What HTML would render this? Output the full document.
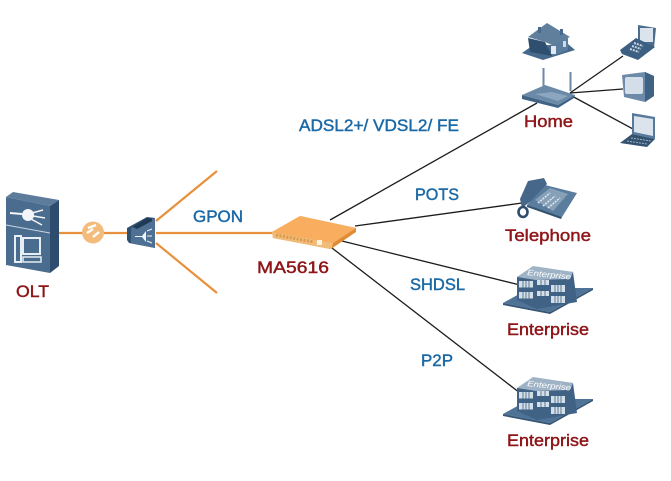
<!DOCTYPE html>
<html>
<head>
<meta charset="utf-8">
<style>
html,body{margin:0;padding:0;background:#fff;width:671px;height:481px;overflow:hidden}
svg{display:block}
text{font-family:"Liberation Sans",sans-serif;font-size:17px;stroke-width:.45px}
.b{fill:#1b69a6;stroke:#1b69a6}
.r{fill:#8e1518;stroke:#8e1518}
</style>
</head>
<body>
<svg width="671" height="481" viewBox="0 0 671 481" xmlns="http://www.w3.org/2000/svg">
<defs>
<g id="ent">
  <polygon points="503,303 530,288 593,288 550,312" fill="#4f7396"/>
  <polygon points="503,303 550,312 593,288 593,290 550,314 503,305" fill="#365676"/>
  <polygon points="517,277 533,267 573,272 577,302 537,309 517,300" fill="#3f6285"/>
  <polygon points="517,277 533,266 573,272 570,279 536,280" fill="#9fb3c6"/>
  <g fill="#d5dfe8">
    <rect x="519" y="281" width="14" height="6.5"/>
    <rect x="519" y="292" width="14" height="6.5"/>
    <rect x="537" y="280" width="12" height="5"/>
    <rect x="537" y="291" width="12" height="5"/>
    <rect x="551" y="285" width="14" height="7"/>
    <rect x="551" y="296" width="14" height="7"/>
  </g>
  <g stroke="#3f6285" stroke-width=".8">
    <path d="M523 281v17.500M526 281v17.500M529 281v17.500M555 285v18M558 285v18M561 285v18M541 280v16M545 280v16"/>
  </g>
  <text x="527" y="275" transform="rotate(6 527 275)" style="font-size:8px;font-style:italic;stroke:none" fill="#fff" textLength="44" lengthAdjust="spacingAndGlyphs">Enterprise</text>
</g>
</defs>

<!-- orange fibre -->
<g stroke="#e8903c" stroke-width="2.2" fill="none">
  <line x1="59" y1="233" x2="128" y2="233"/>
  <line x1="156" y1="233" x2="274" y2="233"/>
  <line x1="156" y1="221" x2="217" y2="171"/>
  <line x1="156" y1="243" x2="217" y2="293"/>
</g>

<!-- black links -->
<g stroke="#1c1c1c" stroke-width="1.3" fill="none">
  <line x1="330" y1="220" x2="537" y2="103"/>
  <line x1="355" y1="226" x2="522" y2="203"/>
  <line x1="342" y1="241" x2="520" y2="285"/>
  <line x1="332" y1="248" x2="520" y2="393"/>
  <line x1="570" y1="93" x2="623" y2="56"/>
  <line x1="570" y1="93" x2="623" y2="89"/>
  <line x1="570" y1="95" x2="633" y2="129"/>
</g>

<!-- OLT -->
<polygon points="6,197 13,192 59,200 50,206" fill="#5d7c9b"/>
<polygon points="50,206 59,200 59,266 50,273" fill="#2e4d6e"/>
<polygon points="6,197 50,206 50,273 6,265" fill="#4a6c8f"/>
<line x1="6" y1="225" x2="50" y2="233" stroke="#c7d4e0" stroke-width="1"/>
<circle cx="28" cy="215" r="6" fill="#f3f6f8"/>
<line x1="10" y1="213" x2="22" y2="214" stroke="#f3f6f8" stroke-width="2"/>
<path d="M32 213L43 210M33 216L45 218M31 219L42 225" stroke="#f3f6f8" stroke-width="1.5" fill="none"/>
<rect x="15" y="236" width="6" height="26" fill="none" stroke="#e6edf3" stroke-width="2"/>
<rect x="23" y="238" width="17" height="16" fill="none" stroke="#e6edf3" stroke-width="2"/>
<rect x="23" y="257" width="18" height="5" fill="none" stroke="#e6edf3" stroke-width="1.5"/>

<!-- orange connector -->
<circle cx="93" cy="232.5" r="11" fill="#f4bc7c"/>
<path d="M87 233l6-4M93 237l6-5M88 228l8-3" stroke="#fff" stroke-width="2.4" fill="none"/>

<!-- splitter -->
<polygon points="127,228 147,217 155,218 155,248 129,243 127,240" fill="#2f5070"/>
<polygon points="131,228 155,218 155,248 131,243" fill="#4d7093"/>
<polygon points="133,227 147,218 152,219 152,221 137,229" fill="#1f3a57"/>
<path d="M135 236h7l4-5v11l-4-5h-7z" fill="#f1f4f7"/>
<path d="M147 231l5-2M147 236h5M147 241l5 2" stroke="#f1f4f7" stroke-width="1"/>

<!-- MA5616 -->
<polygon points="272,232 300,216 356,228 333,243 330,249 273,238" fill="#f0a24e"/>
<polygon points="272,232 300,216 356,228 333,243" fill="#f8ae5e"/>
<polygon points="333,243 356,228 356,232 331,249" fill="#e08c35"/>
<polygon points="272,232 333,243 331,249 273,238" fill="#f1bb78"/>
<path d="M276 235l38 7" stroke="#d99a4e" stroke-width="3" stroke-dasharray="2 1.500"/>
<rect x="317" y="240" width="5" height="5" fill="#fbf3e3"/>

<!-- house -->
<polygon points="522,53 532,46 568,44 575,50 543,60" fill="#47698c"/>
<polygon points="528,38 545,42 552,56 530,52" fill="#2f4f70"/>
<polygon points="552,43 568,38 568,50 552,56" fill="#5b7d9d"/>
<polygon points="547,23 570,37 552,45 545,42 528,37" fill="#607f9c"/>
<rect x="538" y="27" width="3" height="6" fill="#47698c"/>
<rect x="560" y="29" width="3" height="6" fill="#47698c"/>
<rect x="551" y="46" width="5" height="8" fill="#e2e9f0"/>
<rect x="563" y="41" width="3" height="6" fill="#cfdbe6"/>

<!-- router -->
<rect x="542.5" y="68" width="2" height="18" fill="#6c8aa6"/>
<rect x="569.5" y="72" width="2" height="19" fill="#6c8aa6"/>
<polygon points="522,95 545,85 575,95 558,105" fill="#6b8aa8"/>
<polygon points="535,94 552,92 568,96 558,101" fill="#8ba6be"/>
<polygon points="522,95 558,105 575,95 574,98 558,108 522,99" fill="#3f6285"/>

<!-- fax phone -->
<polygon points="638,25 656,28 654,48 638,44" fill="#4c6d8e"/>
<rect x="640" y="28" width="13" height="14" fill="#dbe4ec"/>
<polygon points="620,50 636,38 655,47 638,60 622,54" fill="#3c5f82"/>
<path d="M630 49l9 3M632 46l9 3M634 43l9 3" stroke="#c8d5e1" stroke-width="2" stroke-dasharray="2 1"/>

<!-- monitor -->
<polygon points="622,75 645,72 654,76 654,96 645,102 624,97" fill="#6d8ba8"/>
<polygon points="645,72 654,76 654,96 645,102" fill="#3f6285"/>
<rect x="625" y="77" width="18" height="17" rx="2" fill="#d3dee8"/>

<!-- laptop -->
<polygon points="632,113 655,117 655,139 632,134" fill="#577a9c"/>
<polygon points="634,116 653,119 653,136 634,132" fill="#dbe4ec"/>
<polygon points="632,134 655,139 647,147 620,143" fill="#33526f"/>
<path d="M627 141l20 3M631 138l20 3" stroke="#9fb3c6" stroke-width="1" stroke-dasharray="2 1"/>

<!-- telephone -->
<polygon points="527,205 545,185 577,193 562,217 545,212" fill="#5b7d9d"/>
<polygon points="527,205 562,217 561,219 527,207" fill="#33526f"/>
<polygon points="528,181 544,178 547,184 531,201 522,208 520,199" fill="#46678a"/>
<polygon points="535,200 550,188 568,194 553,211" fill="#86a0b8"/>
<path d="M538 203l12-10M543 206l12-10M548 208l12-10" stroke="#e2e9f0" stroke-width="1.5" stroke-dasharray="2 1"/>
<ellipse cx="523" cy="212" rx="4.500" ry="5" fill="none" stroke="#2e4d6e" stroke-width="2.600"/>

<!-- enterprise -->
<use href="#ent"/>
<use href="#ent" y="111"/>

<!-- labels -->
<text class="b" x="299" y="131" textLength="160" lengthAdjust="spacingAndGlyphs">ADSL2+/ VDSL2/ FE</text>
<text class="b" x="415" y="200" textLength="44" lengthAdjust="spacingAndGlyphs">POTS</text>
<text class="b" x="193" y="222" textLength="50" lengthAdjust="spacingAndGlyphs">GPON</text>
<text class="b" x="410" y="290" textLength="55" lengthAdjust="spacingAndGlyphs">SHDSL</text>
<text class="b" x="421" y="366" textLength="32" lengthAdjust="spacingAndGlyphs">P2P</text>
<text class="r" x="257" y="273" textLength="72" lengthAdjust="spacingAndGlyphs">MA5616</text>
<text class="r" x="16" y="297" textLength="33" lengthAdjust="spacingAndGlyphs">OLT</text>
<text class="r" x="524" y="127" textLength="49" lengthAdjust="spacingAndGlyphs">Home</text>
<text class="r" x="505" y="241" textLength="86" lengthAdjust="spacingAndGlyphs">Telephone</text>
<text class="r" x="507" y="335" textLength="82" lengthAdjust="spacingAndGlyphs">Enterprise</text>
<text class="r" x="507" y="446" textLength="82" lengthAdjust="spacingAndGlyphs">Enterprise</text>
</svg>
</body>
</html>
